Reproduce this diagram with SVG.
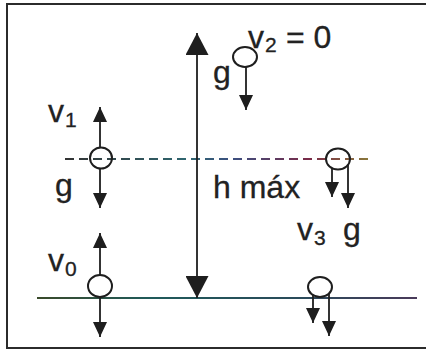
<svg xmlns="http://www.w3.org/2000/svg" width="426" height="354" viewBox="0 0 426 354">
<style>
.frame{fill:none;stroke:#2b2b2b;stroke-width:2}
.ball{fill:none;stroke:#1e1e1e;stroke-width:2}
.vec{stroke:#1e1e1e;stroke-width:1.8;fill:none}
.lbl{font-family:"Liberation Sans",Arial,sans-serif;font-size:32px;fill:#222;stroke:#222;stroke-width:0.3}
.sub{font-size:21px}
</style>
<defs>
<marker id="ah" viewBox="0 0 15 14" refX="15" refY="7" markerWidth="15" markerHeight="14" markerUnits="userSpaceOnUse" orient="auto">
<path d="M0,0 L15,7 L0,14 Z" fill="#1e1e1e"/>
</marker>
<marker id="big" viewBox="0 0 22 23" refX="22" refY="11.5" markerWidth="22" markerHeight="23" markerUnits="userSpaceOnUse" orient="auto">
<path d="M0,0 L22,11.5 L0,23 Z" fill="#1e1e1e"/>
</marker>
<linearGradient id="dash" gradientUnits="userSpaceOnUse" x1="65" y1="0" x2="370" y2="0">
<stop offset="0" stop-color="#333"/>
<stop offset="0.4" stop-color="#2f6670"/>
<stop offset="0.55" stop-color="#3b4f80"/>
<stop offset="0.8" stop-color="#7a2a48"/>
<stop offset="1" stop-color="#8a7a3a"/>
</linearGradient>
<linearGradient id="ground" gradientUnits="userSpaceOnUse" x1="37" y1="0" x2="417" y2="0">
<stop offset="0" stop-color="#3a4a2a"/>
<stop offset="0.3" stop-color="#1f5a5a"/>
<stop offset="0.7" stop-color="#2a4a5a"/>
<stop offset="1" stop-color="#4a3a5a"/>
</linearGradient>
</defs>
<rect width="426" height="354" fill="#ffffff"/>
<g id="frame">
<path class="frame" d="M426,4 H7 V348 H426"/>
</g>
<g id="levels">
<line x1="65" y1="159" x2="370" y2="159" stroke="url(#dash)" stroke-width="1.8" stroke-dasharray="9 5"/>
<line x1="37" y1="298" x2="417" y2="298" stroke="url(#ground)" stroke-width="2"/>
</g>
<g id="height">
<line class="vec" x1="197" y1="165" x2="197" y2="33" marker-end="url(#big)"/>
<line class="vec" x1="197" y1="165" x2="197" y2="298" marker-end="url(#big)"/>
<text class="lbl" x="213" y="198">h máx</text>
</g>
<g id="ball-v0">
<ellipse class="ball" cx="100" cy="286" rx="12" ry="11"/>
<text class="lbl" x="48" y="271">v<tspan class="sub" x="65" y="276">0</tspan></text>
</g>
<g id="ball-v1">
<ellipse class="ball" cx="101" cy="158" rx="11" ry="10.5"/>
<text class="lbl" x="48" y="122">v<tspan class="sub" x="65" y="127">1</tspan></text>
<text class="lbl" x="55" y="196">g</text>
</g>
<g id="ball-top">
<ellipse class="ball" cx="245" cy="57" rx="12" ry="10"/>
<text class="lbl" x="248" y="48">v<tspan class="sub" x="265" y="52">2</tspan><tspan x="286" y="48">= 0</tspan></text>
<text class="lbl" x="213" y="83">g</text>
</g>
<g id="ball-v3">
<ellipse class="ball" cx="338" cy="159" rx="12" ry="10.5"/>
<text class="lbl" x="297" y="240">v<tspan class="sub" x="314" y="245">3</tspan></text>
<text class="lbl" x="343" y="240">g</text>
</g>
<g id="ball-ground">
<ellipse class="ball" cx="320" cy="287" rx="12" ry="10"/>
</g>
<g id="connectors">
<line class="vec" x1="100" y1="147" x2="100" y2="107" marker-end="url(#ah)"/>
<line class="vec" x1="100" y1="168" x2="100" y2="208" marker-end="url(#ah)"/>
<line class="vec" x1="246" y1="67" x2="246" y2="110" marker-end="url(#ah)"/>
<line class="vec" x1="332" y1="168" x2="332" y2="197" marker-end="url(#ah)"/>
<line class="vec" x1="348" y1="165" x2="348" y2="208" marker-end="url(#ah)"/>
<line class="vec" x1="100" y1="275" x2="100" y2="233" marker-end="url(#ah)"/>
<line class="vec" x1="100" y1="297" x2="100" y2="337" marker-end="url(#ah)"/>
<line class="vec" x1="313" y1="295" x2="313" y2="323" marker-end="url(#ah)"/>
<line class="vec" x1="329" y1="294" x2="329" y2="336" marker-end="url(#ah)"/>
</g>
</svg>
